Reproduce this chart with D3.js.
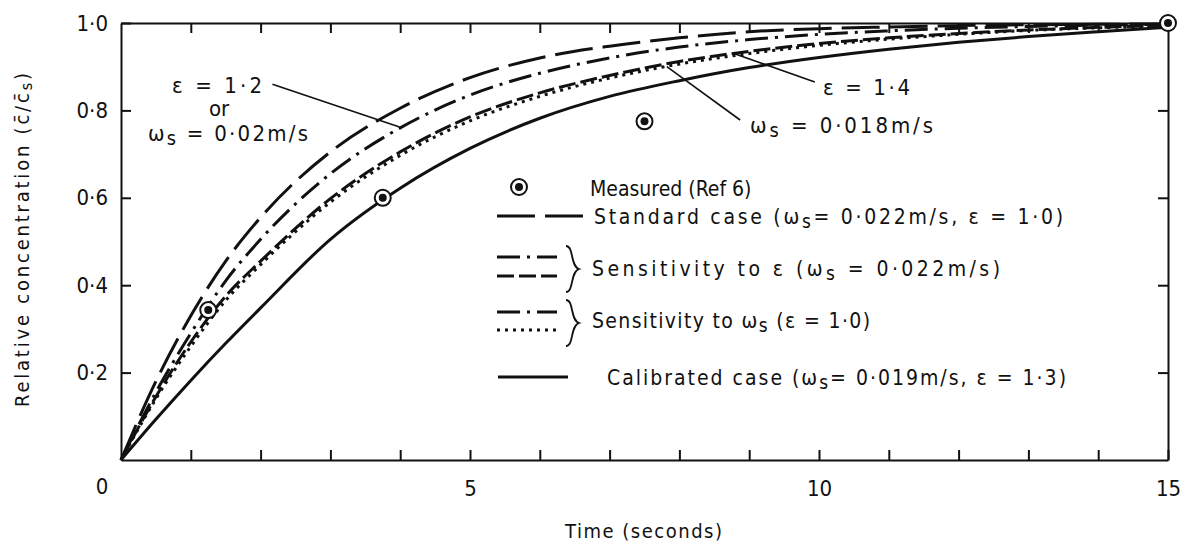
<!DOCTYPE html>
<html>
<head>
<meta charset="utf-8">
<script src="https://cdn.jsdelivr.net/npm/d3@7"></script>
<style>
  body { margin: 0; background: #fff; }
  svg { display: block; }
  text { font-family: "DejaVu Sans Condensed", "DejaVu Sans", sans-serif; fill: #111; }
  .axis path, .axis line { stroke: #111; stroke-width: 2; }
  .axis text { font-size: 22px; }
</style>
</head>
<body>
<svg id="chart" width="1184" height="551"></svg>
<script>
// values
const time = [0, 0.5, 1, 1.5, 2, 3, 4, 5, 6, 7, 8, 9, 10, 11, 12, 13, 14, 15];
const standardCase = [0, 0.18, 0.33, 0.455, 0.555, 0.705, 0.805, 0.875, 0.92, 0.947, 0.966, 0.98, 0.987, 0.991, 0.994, 0.996, 0.997, 0.998];
const dashDotCase = [0, 0.155, 0.29, 0.41, 0.505, 0.655, 0.76, 0.835, 0.885, 0.92, 0.945, 0.962, 0.974, 0.982, 0.988, 0.992, 0.995, 0.997];
const eps14Case = [0, 0.145, 0.27, 0.375, 0.455, 0.598, 0.705, 0.785, 0.84, 0.88, 0.912, 0.935, 0.953, 0.966, 0.976, 0.984, 0.99, 0.995];
const ws018Case = [0, 0.14, 0.26, 0.365, 0.447, 0.59, 0.697, 0.776, 0.832, 0.874, 0.906, 0.93, 0.949, 0.963, 0.974, 0.983, 0.989, 0.994];
const calibratedCase = [0, 0.093, 0.182, 0.267, 0.348, 0.505, 0.622, 0.713, 0.782, 0.832, 0.868, 0.898, 0.921, 0.94, 0.956, 0.969, 0.98, 0.99];

const measuredTime = [1.25, 3.75, 7.5, 15];
const measuredConc = [0.343, 0.6, 0.775, 1.0];

const xMajorLabels = [5, 10, 15];
const yTickValues = [0.2, 0.4, 0.6, 0.8, 1.0];

const styles = {
  standard: "38,10",
  dashDot: "23,7,3,7",
  dashed: "17,5",
  dotted: "3,5",
  solid: null,
};

const series = [
  { id: "standard", values: standardCase, dash: styles.standard },
  { id: "dashdot", values: dashDotCase, dash: styles.dashDot },
  { id: "eps14", values: eps14Case, dash: styles.dashed },
  { id: "ws018", values: ws018Case, dash: styles.dotted },
  { id: "calibrated", values: calibratedCase, dash: styles.solid },
];

const svg = d3.select("#chart");
const margin = { left: 121, right: 16, top: 23, bottom: 91 };
const width = 1184 - margin.left - margin.right;
const height = 551 - margin.top - margin.bottom;

const x = d3.scaleLinear().domain([0, 15]).range([0, width]);
const y = d3.scaleLinear().domain([0, 1]).range([height, 0]);

const g = svg.append("g").attr("transform", `translate(${margin.left}, ${margin.top})`);

const fmt = (d) => d3.format(".1f")(d).replace(".", "·");

// frame with inward ticks
g.append("g")
  .attr("class", "axis")
  .attr("transform", `translate(0, ${height})`)
  .call(
    d3.axisBottom(x)
      .tickValues(d3.range(1, 16))
      .tickSizeInner(-10)
      .tickSizeOuter(0)
      .tickPadding(20)
      .tickFormat((d) => (xMajorLabels.includes(d) ? d : ""))
  );

g.append("g")
  .attr("class", "axis")
  .call(
    d3.axisTop(x)
      .tickValues(d3.range(1, 15))
      .tickSizeInner(-10)
      .tickSizeOuter(0)
      .tickFormat("")
  );

g.append("g")
  .attr("class", "axis")
  .call(
    d3.axisLeft(y)
      .tickValues(yTickValues)
      .tickSizeInner(-10)
      .tickSizeOuter(0)
      .tickPadding(13)
      .tickFormat(fmt)
  );

g.append("g")
  .attr("class", "axis")
  .attr("transform", `translate(${width}, 0)`)
  .call(
    d3.axisRight(y)
      .tickValues(yTickValues.slice(0, 4))
      .tickSizeInner(-10)
      .tickSizeOuter(0)
      .tickFormat("")
  );

// shared origin label
g.append("text")
  .attr("x", -19)
  .attr("y", height + 34)
  .attr("font-size", 22)
  .attr("text-anchor", "middle")
  .text("0");

// axis titles
svg.append("text")
  .attr("transform", "translate(29, 240) rotate(-90)")
  .attr("text-anchor", "middle")
  .attr("font-size", 20)
  .attr("textLength", 334)
  .attr("lengthAdjust", "spacing")
  .text("Relative concentration (c̄/c̄")
  .append("tspan")
  .attr("font-size", 16)
  .attr("dy", 3)
  .text("s")
  .append("tspan")
  .attr("dy", -3)
  .attr("font-size", 20)
  .text(")");

svg.append("text")
  .attr("x", 565)
  .attr("y", 538)
  .attr("font-size", 20)
  .attr("textLength", 157)
  .attr("lengthAdjust", "spacing")
  .text("Time (seconds)");

// curves
const line = d3
  .line()
  .x((d) => x(d[0]))
  .y((d) => y(d[1]))
  .curve(d3.curveMonotoneX);

g.selectAll("path.curve")
  .data(series)
  .enter()
  .append("path")
  .attr("class", "curve")
  .attr("d", (d) => line(time.map((t, i) => [t, d.values[i]])))
  .attr("fill", "none")
  .attr("stroke", "#111")
  .attr("stroke-width", 3)
  .attr("stroke-dasharray", (d) => d.dash);

// measured points
function drawMarker(sel) {
  sel.append("circle").attr("r", 8).attr("fill", "#fff").attr("stroke", "#111").attr("stroke-width", 2);
  sel.append("circle").attr("r", 4).attr("fill", "#111");
}

g.selectAll("g.measured")
  .data(measuredTime.map((t, i) => [t, measuredConc[i]]))
  .enter()
  .append("g")
  .attr("class", "measured")
  .attr("transform", (d) => `translate(${x(d[0])}, ${y(d[1])})`)
  .call(drawMarker);

// annotations with leader lines (in data units)
const leaders = [
  { from: [2.17, 0.86], to: [3.99, 0.762] },
  { from: [9.94, 0.865], to: [8.77, 0.931] },
  { from: [8.87, 0.778], to: [7.82, 0.9] },
];

g.selectAll("line.leader")
  .data(leaders)
  .enter()
  .append("line")
  .attr("class", "leader")
  .attr("x1", (d) => x(d.from[0]))
  .attr("y1", (d) => y(d.from[1]))
  .attr("x2", (d) => x(d.to[0]))
  .attr("y2", (d) => y(d.to[1]))
  .attr("stroke", "#111")
  .attr("stroke-width", 1.6);

function omegaS(sel, rest) {
  sel.append("tspan").text("ω");
  sel.append("tspan").attr("dy", 4).attr("font-size", "0.9em").text("s");
  sel.append("tspan").attr("dy", -4).text(rest);
}

function fit(sel, len) {
  sel.attr("textLength", len).attr("lengthAdjust", "spacing");
}

const ann = svg.append("g").attr("font-size", 22);
ann.append("text").attr("x", 172).attr("y", 93).text("ε = 1·2").call(fit, 90);
ann.append("text").attr("x", 209).attr("y", 116).text("or");
ann.append("text").attr("x", 148).attr("y", 141).call(omegaS, " = 0·02m/s").call(fit, 160);
ann.append("text").attr("x", 823).attr("y", 95).text("ε = 1·4").call(fit, 87);
ann.append("text").attr("x", 750).attr("y", 133).call(omegaS, " = 0·018m/s").call(fit, 183);

// legend
const legend = svg.append("g").attr("font-size", 21);

legend.append("g").attr("transform", "translate(519, 187)").call(drawMarker);
legend.append("text").attr("x", 590).attr("y", 196).text("Measured (Ref 6)");

function sample(x1, x2, yy, dash) {
  legend.append("line")
    .attr("x1", x1).attr("x2", x2).attr("y1", yy).attr("y2", yy)
    .attr("stroke", "#111").attr("stroke-width", 3)
    .attr("stroke-dasharray", dash);
}

function brace(xx, y1, y2) {
  const m = (y1 + y2) / 2;
  legend.append("path")
    .attr("d", `M${xx},${y1} C${xx + 8},${y1} ${xx + 4},${m - 3} ${xx + 13},${m} C${xx + 4},${m + 3} ${xx + 8},${y2} ${xx},${y2}`)
    .attr("fill", "none").attr("stroke", "#111").attr("stroke-width", 1.8);
}

sample(497, 583, 216, styles.standard);
legend.append("text").attr("x", 594).attr("y", 224).call((t) => {
  t.append("tspan").text("Standard case (");
  omegaS(t, "= 0·022m/s, ε = 1·0)");
}).call(fit, 469);

sample(497, 557, 257, styles.dashDot);
sample(497, 557, 276, styles.dashed);
brace(566, 246, 292);
legend.append("text").attr("x", 592).attr("y", 276).call((t) => {
  t.append("tspan").text("Sensitivity to ε (");
  omegaS(t, " = 0·022m/s)");
}).call(fit, 408);

sample(497, 557, 312, styles.dashDot);
sample(497, 557, 330, styles.dotted);
brace(566, 300, 346);
legend.append("text").attr("x", 592).attr("y", 328).call((t) => {
  t.append("tspan").text("Sensitivity to ");
  omegaS(t, " (ε = 1·0)");
}).call(fit, 278);

sample(498, 568, 377, styles.solid);
legend.append("text").attr("x", 607).attr("y", 385).call((t) => {
  t.append("tspan").text("Calibrated case (");
  omegaS(t, "= 0·019m/s, ε = 1·3)");
}).call(fit, 459);
</script>
</body>
</html>
